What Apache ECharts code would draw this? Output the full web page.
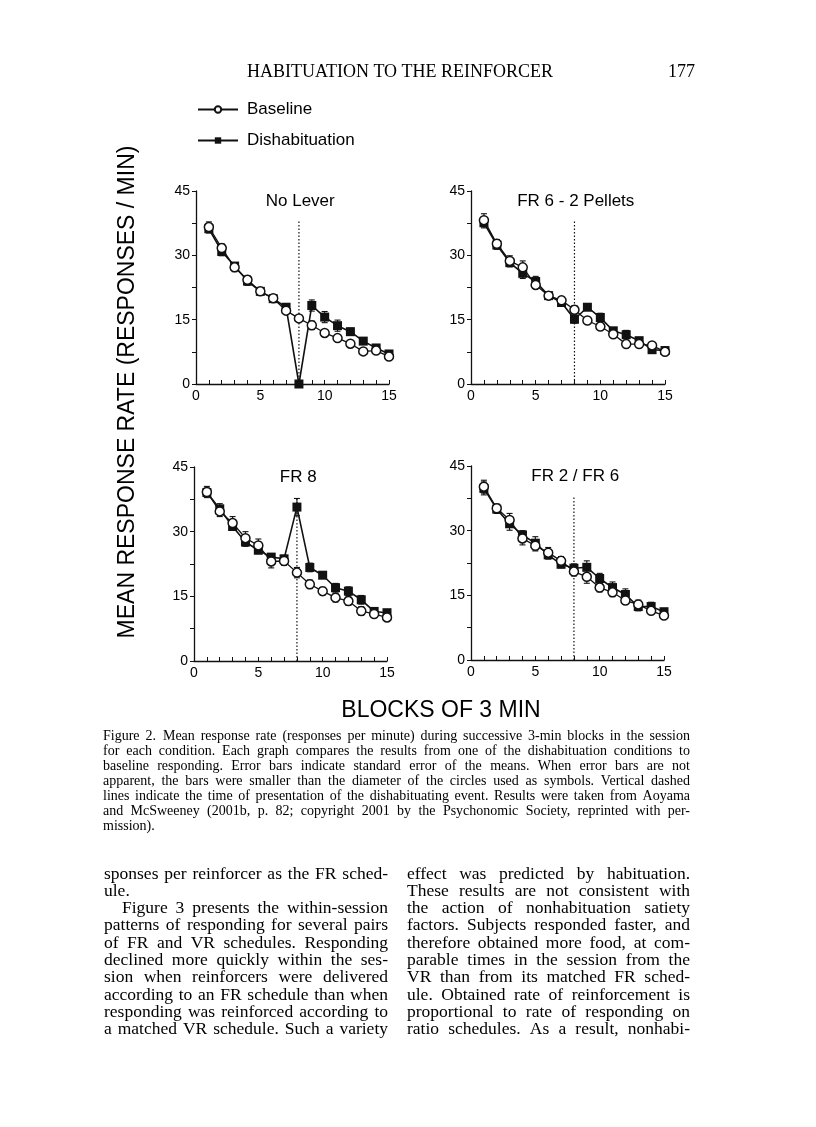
<!DOCTYPE html>
<html>
<head>
<meta charset="utf-8">
<script src="https://cdn.jsdelivr.net/npm/echarts@6/dist/echarts.min.js"></script>
<style>
html,body{margin:0;padding:0;background:#fff;}
#c{width:816px;height:1127px;}
</style>
</head>
<body>
<div id="c"></div>
<script>
// ---------- DATA ----------
const blocks = [1,2,3,4,5,6,7,8,9,10,11,12,13,14,15];
const xTickValues = [0,5,10,15];
const yTickValues = [0,15,30,45];
const panelTitles = ['No Lever','FR 6 - 2 Pellets','FR 8','FR 2 / FR 6'];
const seriesNames = ['Baseline','Dishabituation'];
const eventBlock = 8;
const eventLineTop = 38;

const noLeverBase   = [36.6,31.7,27.2,24.3,21.6,20.0,17.1,15.3,13.7,11.9,10.7,9.4,7.6,7.8,6.4];
const noLeverDish   = [36.2,30.9,27.5,24.0,21.6,19.9,17.9,0.0,18.3,15.6,13.6,12.2,10.0,8.4,7.0];
const noLeverBaseSE = [1.2,1.0,1.0,1.0,0.4,0.5,0.5,0.4,1.0,0.4,0.4,0.4,0.4,0.4,0.4];
const noLeverDishSE = [1.0,1.0,0.8,1.0,0.5,0.5,0.6,0.0,1.3,1.3,1.3,0.8,0.6,0.5,0.5];

const fr6Base   = [38.2,32.7,28.7,27.2,23.1,20.6,19.5,17.3,14.8,13.4,11.6,9.3,9.3,9.0,7.5];
const fr6Dish   = [37.6,32.4,28.3,25.8,23.9,20.6,19.0,15.1,17.9,15.5,12.4,11.5,10.1,8.0,7.8];
const fr6BaseSE = [1.5,1.0,1.2,1.5,0.6,0.5,0.8,1.0,0.5,0.5,0.5,0.5,0.5,0.5,0.5];
const fr6DishSE = [1.2,1.0,1.0,1.2,1.2,0.5,0.7,0.9,0.7,1.0,0.6,1.0,0.6,0.6,0.5];

const fr8Base   = [39.2,34.7,32.0,28.5,26.8,23.1,23.2,20.5,17.8,16.2,14.7,13.9,11.6,10.9,10.1];
const fr8Dish   = [39.1,35.3,31.2,27.6,25.7,24.1,23.7,35.7,21.7,19.9,17.0,16.2,14.2,11.5,11.2];
const fr8BaseSE = [1.3,1.2,1.5,1.5,1.5,1.5,1.0,1.2,1.0,0.9,1.0,1.0,1.0,0.7,0.5];
const fr8DishSE = [1.0,1.2,0.8,1.0,0.8,0.6,0.8,2.0,1.0,0.6,1.0,1.0,1.0,0.8,0.6];

const fr2fr6Base   = [40.2,35.2,32.5,28.2,26.5,24.9,23.0,20.5,19.3,16.8,15.7,13.8,12.9,11.4,10.3];
const fr2fr6Dish   = [39.8,35.0,31.6,29.0,27.1,24.4,22.2,21.3,21.5,18.9,16.8,15.2,12.4,12.4,11.2];
const fr2fr6BaseSE = [1.5,1.0,1.5,1.5,1.2,1.2,1.0,1.0,1.5,1.0,1.0,0.8,1.0,0.8,0.7];
const fr2fr6DishSE = [1.5,1.0,1.5,1.0,1.5,1.0,0.8,1.0,1.5,1.2,1.3,1.3,1.0,1.0,0.7];

const headerText = 'HABITUATION TO THE REINFORCER';
const pageNumber = '177';
const yAxisTitle = 'MEAN RESPONSE RATE (RESPONSES / MIN)';
const xAxisTitle = 'BLOCKS OF 3 MIN';
const captionLines = [
  'Figure 2.\u2002Mean response rate (responses per minute) during successive 3-min blocks in the session',
  'for each condition. Each graph compares the results from one of the dishabituation conditions to',
  'baseline responding. Error bars indicate standard error of the means. When error bars are not',
  'apparent, the bars were smaller than the diameter of the circles used as symbols. Vertical dashed',
  'lines indicate the time of presentation of the dishabituating event. Results were taken from Aoyama',
  'and McSweeney (2001b, p. 82; copyright 2001 by the Psychonomic Society, reprinted with per-',
  'mission).'
];
const leftColumnLines = [
  'sponses per reinforcer as the FR sched-',
  'ule.',
  'Figure 3 presents the within-session',
  'patterns of responding for several pairs',
  'of FR and VR schedules. Responding',
  'declined more quickly within the ses-',
  'sion when reinforcers were delivered',
  'according to an FR schedule than when',
  'responding was reinforced according to',
  'a matched VR schedule. Such a variety'
];
const rightColumnLines = [
  'effect was predicted by habituation.',
  'These results are not consistent with',
  'the action of nonhabituation satiety',
  'factors. Subjects responded faster, and',
  'therefore obtained more food, at com-',
  'parable times in the session from the',
  'VR than from its matched FR sched-',
  'ule. Obtained rate of reinforcement is',
  'proportional to rate of responding on',
  'ratio schedules. As a result, nonhabi-'
];

// ---------- LAYOUT ----------
const panels = [
  {title: panelTitles[0], base: noLeverBase, dish: noLeverDish, baseSE: noLeverBaseSE, dishSE: noLeverDishSE,
   grid: {left: 196, top: 191, width: 193, height: 193}},
  {title: panelTitles[1], base: fr6Base, dish: fr6Dish, baseSE: fr6BaseSE, dishSE: fr6DishSE,
   grid: {left: 471, top: 191, width: 194, height: 193}},
  {title: panelTitles[2], base: fr8Base, dish: fr8Dish, baseSE: fr8BaseSE, dishSE: fr8DishSE,
   grid: {left: 194, top: 467, width: 193, height: 194}},
  {title: panelTitles[3], base: fr2fr6Base, dish: fr2fr6Dish, baseSE: fr2fr6BaseSE, dishSE: fr2fr6DishSE,
   grid: {left: 471, top: 466, width: 193, height: 194}}
];

const INK = '#111';
const SANS = '"Liberation Sans", Arial, sans-serif';
const SERIF = '"Liberation Serif", "Times New Roman", serif';

function errRender(params, api) {
  const x = api.value(0), y = api.value(1), e = api.value(2);
  if (!e) return null;
  const top = api.coord([x, y + e]);
  const bot = api.coord([x, y - e]);
  const hw = 3;
  const style = {stroke: INK, lineWidth: 1.1};
  return {type: 'group', children: [
    {type: 'line', shape: {x1: top[0], y1: top[1], x2: bot[0], y2: bot[1]}, style: style},
    {type: 'line', shape: {x1: top[0]-hw, y1: top[1], x2: top[0]+hw, y2: top[1]}, style: style},
    {type: 'line', shape: {x1: bot[0]-hw, y1: bot[1], x2: bot[0]+hw, y2: bot[1]}, style: style}
  ]};
}

const grids = [], xAxes = [], yAxes = [], series = [], graphics = [];

panels.forEach((p, i) => {
  grids.push(Object.assign({containLabel: false}, p.grid));
  xAxes.push({
    type: 'value', gridIndex: i, min: xTickValues[0], max: xTickValues[xTickValues.length-1],
    interval: xTickValues[1] - xTickValues[0],
    axisLine: {lineStyle: {color: INK, width: 1.3}},
    axisTick: {inside: true, length: 4, lineStyle: {color: INK, width: 1}},
    minorTick: {show: true, splitNumber: 5, length: 4, lineStyle: {color: INK, width: 1}},
    axisLabel: {color: '#000', fontSize: 14, fontFamily: SANS, margin: 5},
    splitLine: {show: false}
  });
  yAxes.push({
    type: 'value', gridIndex: i, min: yTickValues[0], max: yTickValues[yTickValues.length-1],
    interval: yTickValues[1] - yTickValues[0],
    axisLine: {show: true, lineStyle: {color: INK, width: 1.3}},
    axisTick: {show: true, inside: false, length: 4, lineStyle: {color: INK, width: 1}},
    minorTick: {show: true, splitNumber: 2, length: 4, lineStyle: {color: INK, width: 1}},
    axisLabel: {color: '#000', fontSize: 14, fontFamily: SANS, margin: 6},
    splitLine: {show: false}
  });
  // dotted event line
  series.push({
    type: 'line', name: 'event' + i, xAxisIndex: i, yAxisIndex: i, silent: true,
    data: [[eventBlock, 0], [eventBlock, eventLineTop]], symbol: 'none',
    lineStyle: {color: INK, width: 1.2, type: [1.5, 2]}, z: 1
  });
  // error bars
  series.push({
    type: 'custom', name: 'errD' + i, xAxisIndex: i, yAxisIndex: i, silent: true,
    data: blocks.map((b, k) => [b, p.dish[k], p.dishSE[k]]),
    renderItem: errRender, encode: {x: 0, y: 1}, z: 2
  });
  series.push({
    type: 'custom', name: 'errB' + i, xAxisIndex: i, yAxisIndex: i, silent: true,
    data: blocks.map((b, k) => [b, p.base[k], p.baseSE[k]]),
    renderItem: errRender, encode: {x: 0, y: 1}, z: 2
  });
  series.push({
    type: 'line', name: seriesNames[1], xAxisIndex: i, yAxisIndex: i,
    data: blocks.map((b, k) => [b, p.dish[k]]),
    symbol: 'rect', symbolSize: 9, showAllSymbol: true,
    itemStyle: {color: INK, borderColor: INK, borderWidth: 0},
    lineStyle: {color: INK, width: 1.6}, z: 3
  });
  series.push({
    type: 'line', name: seriesNames[0], xAxisIndex: i, yAxisIndex: i,
    data: blocks.map((b, k) => [b, p.base[k]]),
    symbol: 'circle', symbolSize: 9, showAllSymbol: true,
    itemStyle: {color: '#fff', borderColor: INK, borderWidth: 1.5},
    lineStyle: {color: INK, width: 1.3}, z: 4
  });
  // panel title
  graphics.push({
    type: 'text', x: p.grid.left + p.grid.width * 0.54, y: p.grid.top + 10,
    style: {text: p.title, fontSize: 17, fontFamily: SANS, fill: '#000', align: 'center', verticalAlign: 'middle'}
  });
});

// ---------- TEXT HELPERS ----------
const mctx = document.createElement('canvas').getContext('2d');
function addLine(str, x0, x1, y, size, family, justify) {
  if (!justify) {
    graphics.push({type: 'text', x: x0, y: y,
      style: {text: str, fontSize: size, fontFamily: family, fill: '#000', align: 'left', verticalAlign: 'middle'}});
    return;
  }
  mctx.font = size + 'px ' + family;
  const words = str.split(' ');
  const widths = words.map(w => mctx.measureText(w).width);
  const total = widths.reduce((a, b) => a + b, 0);
  const gap = (x1 - x0 - total) / (words.length - 1);
  let x = x0;
  words.forEach((w, k) => {
    graphics.push({type: 'text', x: x, y: y,
      style: {text: w, fontSize: size, fontFamily: family, fill: '#000', align: 'left', verticalAlign: 'middle'}});
    x += widths[k] + gap;
  });
}

// header
graphics.push({type: 'text', x: 400, y: 72,
  style: {text: headerText, fontSize: 18, fontFamily: SERIF, fill: '#000', align: 'center', verticalAlign: 'middle'}});
graphics.push({type: 'text', x: 695, y: 72,
  style: {text: pageNumber, fontSize: 18, fontFamily: SERIF, fill: '#000', align: 'right', verticalAlign: 'middle'}});

// axis titles
graphics.push({type: 'text', x: 128, y: 392, rotation: Math.PI / 2,
  style: {text: yAxisTitle, fontSize: 23, fontFamily: SANS, fill: '#000', align: 'center', verticalAlign: 'middle'}});
graphics.push({type: 'text', x: 441, y: 711,
  style: {text: xAxisTitle, fontSize: 23, fontFamily: SANS, fill: '#000', align: 'center', verticalAlign: 'middle'}});

// caption
const capL = 103, capR = 690;
captionLines.forEach((s, k) => {
  addLine(s, capL, capR, 736 + 15.1 * k, 14, SERIF, k < captionLines.length - 1);
});
// body columns
const colLy0 = 874, colDy = 17.3;
leftColumnLines.forEach((s, k) => {
  const x0 = (k === 2) ? 122 : 104;
  addLine(s, x0, 388, colLy0 + colDy * k, 17.5, SERIF, k !== 1);
});
rightColumnLines.forEach((s, k) => {
  addLine(s, 407, 690, colLy0 + colDy * k, 17.5, SERIF, true);
});

const chart = echarts.init(document.getElementById('c'), null, {renderer: 'canvas'});
chart.setOption({
  backgroundColor: '#fff',
  animation: false,
  legend: {
    orient: 'vertical', left: 197, top: 101, padding: 0,
    data: seriesNames, selectedMode: false,
    itemWidth: 40, itemHeight: 8, itemGap: 14,
    textStyle: {fontSize: 17, fontFamily: SANS, color: '#000', padding: [0, 0, 0, 4]}
  },
  grid: grids, xAxis: xAxes, yAxis: yAxes, series: series,
  graphic: graphics
});
</script>
</body>
</html>
